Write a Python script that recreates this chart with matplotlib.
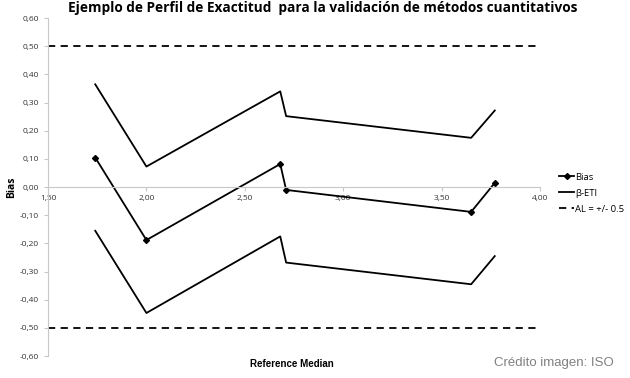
import matplotlib
matplotlib.use("Agg")
import matplotlib.pyplot as plt
import numpy as np

# Values
median = [1.74, 2.00, 2.68, 2.71, 3.65, 3.77]
bias = [0.105, -0.188, 0.082, -0.010, -0.088, 0.015]
eti_upper = [0.365, 0.073, 0.340, 0.252, 0.175, 0.272]
eti_lower = [-0.155, -0.447, -0.175, -0.268, -0.345, -0.245]
acc_limit = 0.5
x_ticks = [1.5, 2.0, 2.5, 3.0, 3.5, 4.0]
y_ticks = [-0.6, -0.5, -0.4, -0.3, -0.2, -0.1, 0.0, 0.1, 0.2, 0.3, 0.4, 0.5, 0.6]

def comma(v):
    return ("%.2f" % v).replace(".", ",")

plt.rcParams['font.family'] = ['Open Sans', 'DejaVu Sans']

fig = plt.figure(figsize=(6.3, 3.78), dpi=100)
ax = fig.add_axes([0.0762, 0.058, 0.781, 0.894])

ax.plot(median, bias, color="black", lw=1.3, marker="D", ms=3, label="Bias")
ax.plot(median, eti_upper, color="black", lw=1.3, label="β-ETI")
ax.plot(median, eti_lower, color="black", lw=1.3)
ax.plot([x_ticks[0], x_ticks[-1]], [acc_limit, acc_limit], color="black", lw=1.3,
        ls=(0, (4, 3)), label="AL = +/- 0.5")
ax.plot([x_ticks[0], x_ticks[-1]], [-acc_limit, -acc_limit], color="black", lw=1.3,
        ls=(0, (4, 3)))

ax.set_xlim(1.5, 4.0)
ax.set_ylim(-0.6, 0.6)

for s in ["top", "right"]:
    ax.spines[s].set_visible(False)
ax.spines["left"].set_color("#c8c8c8")
ax.spines["bottom"].set_color("#c8c8c8")
ax.spines["bottom"].set_position(("data", 0))

ax.set_xticks(x_ticks)
ax.set_xticklabels([comma(v) for v in x_ticks])
ax.set_yticks(y_ticks)
ax.set_yticklabels([comma(v) for v in y_ticks])
ax.tick_params(axis="both", labelsize=6, colors="#c8c8c8", labelcolor="#333333",
               length=3, width=0.8)
ax.tick_params(axis="x", pad=3)

ax.set_ylabel("Bias", fontsize=7.5, fontweight="bold", labelpad=2)
fig.text(0.463, 0.037, "Reference Median", fontsize=7, fontweight="bold",
         ha="center", va="center", family="Liberation Sans")

fig.text(0.513, 0.978, "Ejemplo de Perfil de Exactitud  para la validación de métodos cuantitativos",
         fontsize=9.8, fontweight="bold", ha="center", va="center")

fig.legend(loc="center left", bbox_to_anchor=(0.882, 0.489), frameon=False,
           fontsize=6.8, handlelength=1.5, handletextpad=0.2, labelspacing=0.75,
           borderaxespad=0)

fig.text(0.975, 0.04, "Crédito imagen: ISO", fontsize=9.5, color="#808080",
         ha="right", va="center", family="Liberation Sans")

fig.savefig("out.png", dpi=100)
